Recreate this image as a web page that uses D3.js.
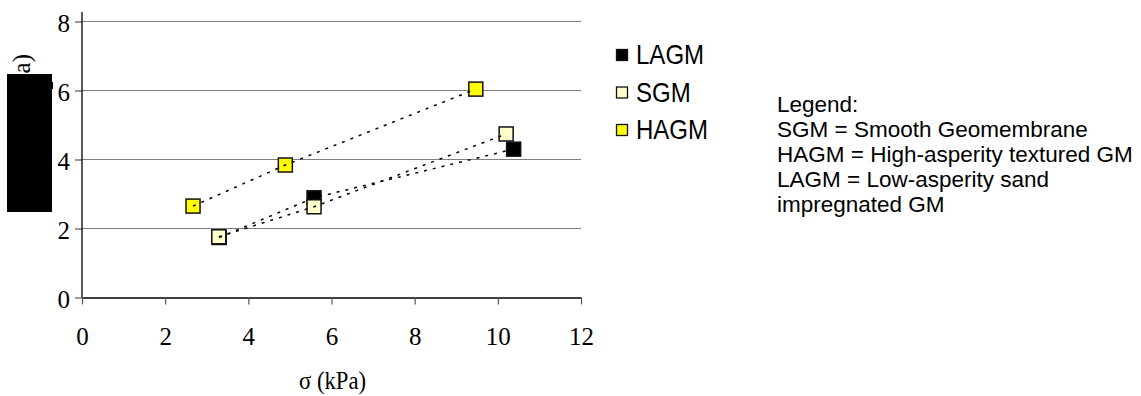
<!DOCTYPE html>
<html>
<head>
<meta charset="utf-8">
<script src="https://cdn.jsdelivr.net/npm/d3@7"></script>
<style>
  body { margin: 0; background: #fff; }
  svg { display: block; }
  .tick text { font-family: "Liberation Serif", "Times New Roman", serif; font-size: 25px; fill: #000; }
</style>
</head>
<body>
<svg id="chart"></svg>
<script>
const WIDTH = 1141;
const HEIGHT = 396;

// data
const seriesNames = ['LAGM', 'SGM', 'HAGM'];
const lagmX = [3.3, 5.58, 10.38];
const lagmY = [1.74, 2.89, 4.3];
const sgmX = [3.29, 5.58, 10.2];
const sgmY = [1.76, 2.63, 4.74];
const hagmX = [2.67, 4.89, 9.47];
const hagmY = [2.65, 3.84, 6.04];
const xTicks = [0, 2, 4, 6, 8, 10, 12];
const yTicks = [0, 2, 4, 6, 8];
const noteLines = [
  'Legend:',
  'SGM = Smooth Geomembrane',
  'HAGM = High-asperity textured GM',
  'LAGM = Low-asperity sand',
  'impregnated GM'
];

const fills = { LAGM: '#000000', SGM: '#FFFFCC', HAGM: '#FFFF00' };

const series = [
  { name: 'LAGM', xs: lagmX, ys: lagmY },
  { name: 'SGM', xs: sgmX, ys: sgmY },
  { name: 'HAGM', xs: hagmX, ys: hagmY }
].map(s => ({ name: s.name, points: s.xs.map((v, i) => [v, s.ys[i]]) }));

const svg = d3.select('#chart')
  .attr('width', WIDTH)
  .attr('height', HEIGHT);

const x = d3.scaleLinear().domain([0, 12]).range([82, 581]);
const y = d3.scaleLinear().domain([0, 8]).range([297.5, 21.5]);

// gridlines
svg.append('g')
  .selectAll('line')
  .data(yTicks.filter(t => t > 0))
  .enter().append('line')
  .attr('x1', x(0)).attr('x2', x(12))
  .attr('y1', d => y(d)).attr('y2', d => y(d))
  .attr('stroke', '#7f7f7f')
  .attr('stroke-width', 1.2);

// axes
const xAxis = svg.append('g')
  .attr('transform', `translate(0,${y(0)})`)
  .call(d3.axisBottom(x).tickValues(xTicks).tickSize(7).tickPadding(23).tickSizeOuter(0));

const yAxis = svg.append('g')
  .attr('transform', `translate(${x(0)},0)`)
  .call(d3.axisLeft(y).tickValues(yTicks).tickSize(7).tickPadding(5).tickSizeOuter(0));

xAxis.select('.domain').attr('stroke', '#000').attr('stroke-width', 1.3);
xAxis.selectAll('.tick line').attr('stroke', '#555').attr('stroke-width', 1.2);
yAxis.selectAll('.tick line').attr('stroke', '#555').attr('stroke-width', 1.2);
yAxis.select('.domain').remove();
yAxis.append('line')
  .attr('x1', 0).attr('x2', 0)
  .attr('y1', 12).attr('y2', y(0))
  .attr('stroke', '#000').attr('stroke-width', 1.3);
yAxis.selectAll('.tick text').attr('dy', '0.4em');

// markers
const M = 14;
svg.append('g')
  .selectAll('g')
  .data(series)
  .enter().append('g')
  .selectAll('rect')
  .data(s => s.points.map(p => ({ name: s.name, p })))
  .enter().append('rect')
  .attr('x', d => x(d.p[0]) - M / 2)
  .attr('y', d => y(d.p[1]) - M / 2)
  .attr('width', M).attr('height', M)
  .attr('fill', d => fills[d.name])
  .attr('stroke', '#111')
  .attr('stroke-width', 1.5);

// dotted series lines (drawn over markers)
const line = d3.line().x(d => x(d[0])).y(d => y(d[1]));
svg.append('g')
  .selectAll('path')
  .data(series)
  .enter().append('path')
  .attr('d', s => line(s.points))
  .attr('fill', 'none')
  .attr('stroke', '#000')
  .attr('stroke-width', 1.5)
  .attr('stroke-dasharray', '3,6');

// axis titles (narrow serif, squeezed like the original)
svg.append('text')
  .attr('x', 299).attr('y', 389)
  .attr('textLength', 67)
  .attr('lengthAdjust', 'spacingAndGlyphs')
  .style('font-family', '"Liberation Serif", "Times New Roman", serif')
  .style('font-size', '26px')
  .text('σ (kPa)');

svg.append('text')
  .attr('transform', 'translate(30,54) rotate(-90)')
  .attr('text-anchor', 'end')
  .style('font-family', '"Liberation Serif", "Times New Roman", serif')
  .style('font-size', '25px')
  .text('τ (kPa)');

// redaction block over the y title
svg.append('rect').attr('x', 7).attr('y', 74).attr('width', 45).attr('height', 138).attr('fill', '#000');
svg.append('rect').attr('x', 51).attr('y', 82).attr('width', 2).attr('height', 7).attr('fill', '#000');

// series legend
const legend = svg.append('g')
  .selectAll('g')
  .data(seriesNames)
  .enter().append('g')
  .attr('transform', (d, i) => `translate(622,${55 + i * 37.5})`);

legend.append('rect')
  .attr('x', -5.5).attr('y', -5.5)
  .attr('width', 11).attr('height', 11)
  .attr('fill', d => fills[d])
  .attr('stroke', '#111')
  .attr('stroke-width', 1.3);

legend.append('text')
  .attr('transform', 'translate(14,9) scale(0.89,1)')
  .style('font-family', '"Liberation Sans", Arial, sans-serif')
  .style('font-size', '27px')
  .text(d => d);

// text note
svg.append('g')
  .selectAll('text')
  .data(noteLines)
  .enter().append('text')
  .attr('x', 777)
  .attr('y', (d, i) => 112 + i * 25)
  .style('font-family', '"Liberation Sans", Arial, sans-serif')
  .style('font-size', '22.5px')
  .text(d => d);
</script>
</body>
</html>
